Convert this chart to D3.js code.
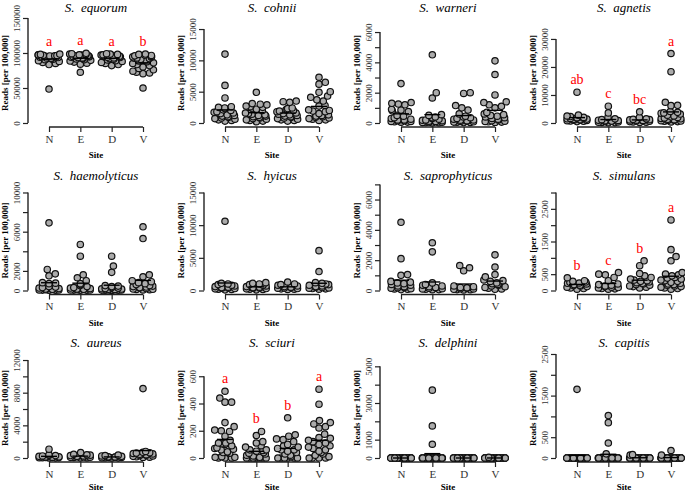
<!DOCTYPE html>
<html>
<head>
<meta charset="utf-8">
<script src="https://cdn.jsdelivr.net/npm/d3@7"></script>
<style>
  body { margin: 0; background: #fff; }
  svg { display: block; }
</style>
</head>
<body>
<div id="chart"></div>
<script>
const sites = ["N", "E", "D", "V"];

const species = ["equorum", "cohnii", "warneri", "agnetis",
                 "haemolyticus", "hyicus", "saprophyticus", "simulans",
                 "aureus", "sciuri", "delphini", "capitis"];

// reads per 100,000, one list per site (N, E, D, V)
const equorum = [
    [98500, 98000, 97500, 97000, 96800, 96500, 96000, 95800, 95500, 95000, 94800, 94500, 94000, 93500, 93000, 92500, 92000, 91000, 90500, 89000, 88000, 86500, 85000, 83500, 48500],
    [99500, 99000, 98500, 98000, 97500, 97000, 96500, 96000, 95500, 95000, 94500, 94000, 93500, 93000, 92000, 91500, 90500, 89500, 88500, 87000, 85500, 84000, 72500],
    [99000, 98500, 98000, 97500, 97000, 96500, 96000, 95500, 95000, 94500, 94000, 93500, 93000, 92000, 91000, 90000, 89000, 88000, 86500, 85000, 83500, 82000],
    [98500, 98000, 97000, 96500, 96000, 95000, 94500, 94000, 93000, 92500, 92000, 91000, 90000, 89500, 88500, 87500, 86000, 85000, 83500, 82000, 80000, 78000, 76000, 74000, 72500, 71500, 70500, 50000]
];
const cohnii = [
    [11000, 6000, 4000, 2600, 2500, 2400, 2300, 2100, 2000, 1800, 1700, 1600, 1500, 1300, 1200, 1100, 1000, 900, 800, 700, 600, 500, 400, 300],
    [4900, 3100, 3000, 2900, 2700, 2600, 2500, 2200, 2000, 1600, 1500, 1400, 1300, 1200, 1100, 1000, 900, 800, 700, 600, 500, 400, 300, 200],
    [3500, 3400, 3300, 2400, 2300, 2200, 2100, 2000, 1900, 1800, 1600, 1500, 1400, 1300, 1200, 1100, 1000, 900, 800, 700, 600, 500, 400, 300],
    [7300, 6500, 6200, 5000, 4900, 4300, 4100, 3700, 3500, 2800, 2700, 2100, 2000, 1900, 1800, 1500, 1300, 1200, 1100, 1000, 900, 800, 700, 600, 500, 400]
];
const warneri = [
    [2600, 1350, 1300, 1250, 1200, 900, 850, 800, 750, 500, 450, 350, 300, 250, 200, 200, 150, 150, 100, 100, 80, 60, 50],
    [4500, 2000, 1650, 550, 500, 400, 350, 300, 250, 200, 180, 150, 120, 100, 80, 60, 50, 40, 30, 20, 10],
    [2000, 1950, 1150, 1000, 850, 600, 450, 400, 350, 300, 250, 200, 180, 150, 120, 100, 80, 60, 50, 40, 30],
    [4100, 3200, 1850, 1400, 1350, 1200, 1100, 1000, 700, 600, 550, 500, 450, 400, 350, 300, 250, 200, 150, 120, 100, 80, 60, 40]
];
const agnetis = [
    [11000, 2800, 2500, 2300, 2000, 1900, 1800, 1700, 1600, 1500, 1400, 1300, 1200, 1100, 1000, 900, 800, 700, 600, 500],
    [6000, 3600, 2000, 1500, 1200, 1000, 900, 800, 700, 600, 500, 400, 300, 200, 150, 100],
    [4000, 2000, 1500, 1300, 1200, 1100, 1000, 900, 800, 700, 600, 500, 400, 300, 200],
    [24800, 18300, 7400, 6300, 6200, 4100, 3800, 3600, 3500, 3200, 2800, 2500, 2200, 2000, 1800, 1600, 1500, 1300, 1200, 1000, 900, 800, 700, 600, 500, 400]
];
const haemolyticus = [
    [6900, 2150, 1700, 1500, 800, 750, 700, 400, 350, 300, 250, 200, 150, 120, 100, 80, 60, 50, 40, 30, 20],
    [4700, 3500, 1600, 1300, 1000, 700, 600, 500, 400, 300, 250, 200, 150, 120, 100, 80, 60, 50, 40, 30, 20],
    [3500, 2500, 1850, 500, 450, 400, 300, 250, 200, 180, 150, 120, 100, 80, 60, 50, 40, 30, 20, 10],
    [6500, 5300, 1600, 1400, 1000, 900, 800, 700, 600, 500, 450, 400, 350, 300, 250, 200, 150, 120, 100, 80, 60]
];
const hyicus = [
    [10600, 1100, 1000, 900, 800, 700, 600, 500, 450, 400, 350, 300, 250, 200, 150, 100],
    [1200, 1100, 1000, 900, 800, 700, 600, 500, 450, 400, 350, 300, 250, 200, 150, 100],
    [1300, 1000, 900, 800, 700, 600, 500, 450, 400, 350, 300, 250, 200, 150],
    [6100, 2900, 1200, 1100, 1000, 900, 800, 700, 600, 500, 450, 400, 350, 300, 250, 200]
];
const saprophyticus = [
    [4500, 2100, 1050, 1000, 600, 550, 500, 450, 400, 350, 300, 250, 200, 180, 150, 120, 100, 80, 60],
    [3150, 2550, 500, 400, 350, 300, 250, 200, 180, 150, 120, 100, 80, 60, 50],
    [1650, 1500, 1300, 300, 250, 200, 180, 150, 120, 100, 80, 60, 50, 40],
    [2350, 1550, 1050, 900, 700, 650, 600, 500, 450, 400, 350, 300, 250, 200, 150, 100, 80]
];
const simulans = [
    [390, 300, 280, 260, 250, 230, 220, 200, 180, 160, 150, 140, 120, 100, 80, 60, 40],
    [550, 500, 480, 400, 300, 200, 180, 160, 140, 120, 100, 90, 80, 60, 50, 40],
    [910, 760, 520, 450, 400, 350, 320, 300, 280, 260, 240, 220, 200, 180, 160, 140, 120, 100, 80],
    [2160, 1250, 1040, 910, 550, 500, 480, 450, 400, 380, 350, 320, 300, 280, 250, 220, 200, 180, 160, 140, 120, 100, 80, 60, 40]
];
const aureus = [
    [1080, 400, 350, 300, 250, 200, 150, 120, 100, 80, 60, 50, 40, 30, 20, 10],
    [670, 450, 400, 350, 300, 250, 200, 150, 120, 100, 80, 60, 40, 20],
    [350, 300, 250, 200, 150, 120, 100, 80, 60, 40, 30, 20, 10],
    [8500, 800, 700, 650, 600, 550, 500, 450, 400, 350, 300, 250, 200, 150, 100, 60]
];
const sciuri = [
    [490, 440, 410, 410, 260, 230, 205, 200, 195, 160, 130, 110, 110, 105, 100, 90, 75, 70, 65, 60, 45, 40, 40, 35, 10, 5, 5, 0, 0, 0],
    [195, 165, 120, 110, 90, 80, 60, 60, 55, 50, 40, 35, 30, 20, 15, 5, 0, 0, 0, 0, 0, 0, 0],
    [295, 170, 160, 140, 135, 120, 100, 90, 80, 70, 60, 60, 50, 40, 30, 20, 10, 0, 0, 0, 0, 0, 0],
    [505, 395, 275, 260, 250, 230, 220, 175, 150, 145, 130, 120, 110, 100, 90, 80, 70, 60, 50, 40, 30, 20, 10, 0, 0, 0, 0]
];
const delphini = [
    [0, 0, 0, 0, 0, 0, 0, 0, 0, 0, 0, 0, 0, 0, 0, 0, 0, 0, 0, 0, 0, 0, 0, 0, 0, 0],
    [3700, 1750, 750, 0, 0, 0, 0, 0, 0, 0, 0, 0, 0, 0, 0, 0, 0, 0, 0, 0, 0, 0, 0, 0, 0, 0],
    [0, 0, 0, 0, 0, 0, 0, 0, 0, 0, 0, 0, 0, 0, 0, 0, 0, 0, 0, 0, 0, 0, 0, 0, 0, 0],
    [40, 0, 0, 0, 0, 0, 0, 0, 0, 0, 0, 0, 0, 0, 0, 0, 0, 0, 0, 0, 0, 0, 0, 0, 0, 0]
];
const capitis = [
    [1650, 0, 0, 0, 0, 0, 0, 0, 0, 0, 0, 0, 0, 0, 0, 0, 0, 0, 0, 0, 0, 0, 0, 0, 0, 0],
    [1020, 850, 360, 100, 0, 0, 0, 0, 0, 0, 0, 0, 0, 0, 0, 0, 0, 0, 0, 0, 0, 0, 0, 0, 0, 0],
    [80, 70, 0, 0, 0, 0, 0, 0, 0, 0, 0, 0, 0, 0, 0, 0, 0, 0, 0, 0, 0, 0, 0, 0, 0, 0],
    [180, 70, 0, 0, 0, 0, 0, 0, 0, 0, 0, 0, 0, 0, 0, 0, 0, 0, 0, 0, 0, 0, 0, 0, 0, 0]
];

const panelData = [equorum, cohnii, warneri, agnetis, haemolyticus, hyicus,
                   saprophyticus, simulans, aureus, sciuri, delphini, capitis];

// upper y limit of each panel
const yLimits = [155700, 17400, 7190, 38900, 11120, 16680, 7190, 3337, 13350, 800, 5945, 2620];

// y ticks, and which of them carry a label
const yTicks = [
    [0, 50000, 100000, 150000],
    [0, 5000, 10000, 15000],
    [0, 1000, 2000, 3000, 4000, 5000, 6000],
    [0, 10000, 20000, 30000],
    [0, 2000, 4000, 6000, 8000, 10000],
    [0, 5000, 10000, 15000],
    [0, 1000, 2000, 3000, 4000, 5000, 6000, 7000],
    [0, 500, 1000, 1500, 2000, 2500, 3000],
    [0, 2000, 4000, 6000, 8000, 10000, 12000],
    [0, 200, 400, 600],
    [0, 1000, 2000, 3000, 4000, 5000],
    [0, 500, 1000, 1500, 2000, 2500]
];
const yLabels = [
    [0, 50000, 100000, 150000],
    [0, 5000, 10000, 15000],
    [0, 2000, 4000, 6000],
    [0, 10000, 20000, 30000],
    [0, 2000, 6000, 10000],
    [0, 5000, 10000, 15000],
    [0, 2000, 4000, 6000],
    [0, 500, 1500, 2500],
    [0, 4000, 8000, 12000],
    [0, 200, 400, 600],
    [0, 1000, 3000, 5000],
    [0, 500, 1500, 2500]
];

// significance letters
const letters = {
    equorum: ["a", "a", "a", "b"],
    agnetis: ["ab", "c", "bc", "a"],
    simulans: ["b", "c", "b", "a"],
    sciuri: ["a", "b", "b", "a"]
};

const width = 685, height = 493;
const serif = "'Liberation Serif', 'Times New Roman', serif";
const ptR = 3.2, ptGap = 6.6, corral = 11.5;

const svg = d3.select("#chart").append("svg")
    .attr("width", width)
    .attr("height", height);

svg.append("rect")
    .attr("width", width)
    .attr("height", height)
    .attr("fill", "#fff");

// beeswarm placement (pixel space), then wrap into the corral
function swarm(vals, yScale) {
    const pts = vals.map(v => ({ v: v, y: yScale(v), x: 0 }))
        .sort((a, b) => b.y - a.y);
    const placed = [];
    pts.forEach(p => {
        let cands = [0];
        placed.forEach(q => {
            const dy = Math.abs(q.y - p.y);
            if (dy < ptGap) {
                const dx = Math.sqrt(ptGap * ptGap - dy * dy);
                cands.push(q.x + dx, q.x - dx);
            }
        });
        cands.sort((a, b) => Math.abs(a) - Math.abs(b));
        for (const x of cands) {
            const ok = placed.every(q => (q.x - x) ** 2 + (q.y - p.y) ** 2 >= ptGap * ptGap - 1e-6);
            if (ok) { p.x = x; break; }
        }
        placed.push(p);
    });
    const w = corral * 2;
    pts.forEach(p => {
        p.x = (((p.x + corral) % w) + w) % w - corral;
    });
    return pts;
}

species.forEach((name, i) => {
    const col = i % 4, row = Math.floor(i / 4);
    const axisX = 28 + 176 * col;
    const y0 = 123 + 167.5 * row;
    const groups = panelData[i];

    const x = d3.scalePoint()
        .domain(sites)
        .range([axisX + 21, axisX + 115]);
    const y = d3.scaleLinear()
        .domain([0, yLimits[i]])
        .range([y0, y0 - 109]);

    const g = svg.append("g");

    // title
    g.append("text")
        .attr("x", (x("N") + x("V")) / 2)
        .attr("y", y0 - 111)
        .attr("text-anchor", "middle")
        .style("font-family", serif)
        .style("font-style", "italic")
        .style("font-size", "13px")
        .style("white-space", "pre")
        .text("S.  " + name);

    // y axis
    const ticks = yTicks[i], labs = yLabels[i];
    const yAxis = g.append("g")
        .attr("transform", `translate(${axisX},0)`)
        .call(d3.axisLeft(y)
            .tickValues(ticks)
            .tickSize(5)
            .tickFormat(d => labs.includes(d) ? d : ""));
    yAxis.select(".domain").remove();
    yAxis.selectAll("line").attr("stroke", "#222").attr("stroke-width", 1.2);
    yAxis.selectAll("text")
        .attr("transform", "rotate(-90)")
        .attr("x", 0)
        .attr("y", -8)
        .attr("dy", null)
        .attr("text-anchor", "middle")
        .style("font-family", serif)
        .style("font-size", "9px")
        .style("fill", "#333");
    g.append("line")
        .attr("x1", axisX).attr("x2", axisX)
        .attr("y1", y(d3.min(ticks))).attr("y2", y(d3.max(ticks)))
        .attr("stroke", "#222")
        .attr("stroke-width", 1.4);

    g.append("text")
        .attr("transform", `translate(${axisX - 20},${y0 - 50}) rotate(-90)`)
        .attr("text-anchor", "middle")
        .style("font-family", serif)
        .style("font-weight", "bold")
        .style("font-size", "9px")
        .text("Reads [per 100,000]");

    // x axis
    const xAxisY = y0 + 4;
    const xAxis = g.append("g")
        .attr("transform", `translate(0,${xAxisY})`)
        .call(d3.axisBottom(x).tickSize(5));
    xAxis.select(".domain").remove();
    xAxis.selectAll("line").attr("stroke", "#222").attr("stroke-width", 1.2);
    xAxis.selectAll("text")
        .style("font-family", serif)
        .style("font-size", "11px")
        .style("fill", "#333");
    g.append("line")
        .attr("x1", x("N")).attr("x2", x("V"))
        .attr("y1", xAxisY).attr("y2", xAxisY)
        .attr("stroke", "#222")
        .attr("stroke-width", 1.4);

    g.append("text")
        .attr("x", (x("N") + x("V")) / 2)
        .attr("y", Math.min(y0 + 35, height - 3))
        .attr("text-anchor", "middle")
        .style("font-family", serif)
        .style("font-weight", "bold")
        .style("font-size", "9px")
        .text("Site");

    // points
    sites.forEach((s, k) => {
        const vals = groups[k];
        const pts = swarm(vals, y);
        g.selectAll(null)
            .data(pts)
            .enter()
            .append("circle")
            .attr("cx", d => x(s) + d.x)
            .attr("cy", d => d.y)
            .attr("r", ptR)
            .attr("fill", "#ababab")
            .attr("stroke", "#111")
            .attr("stroke-width", 1.2);

        const m = d3.mean(vals);
        g.append("line")
            .attr("x1", x(s) - 8).attr("x2", x(s) + 8)
            .attr("y1", y(m)).attr("y2", y(m))
            .attr("stroke", "#000")
            .attr("stroke-width", 1.4);

        if (letters[name]) {
            g.append("text")
                .attr("x", x(s))
                .attr("y", y(d3.max(vals)) - 8)
                .attr("text-anchor", "middle")
                .style("font-family", serif)
                .style("font-size", "14px")
                .style("fill", "#ff0000")
                .text(letters[name][k]);
        }
    });
});
</script>
</body>
</html>
